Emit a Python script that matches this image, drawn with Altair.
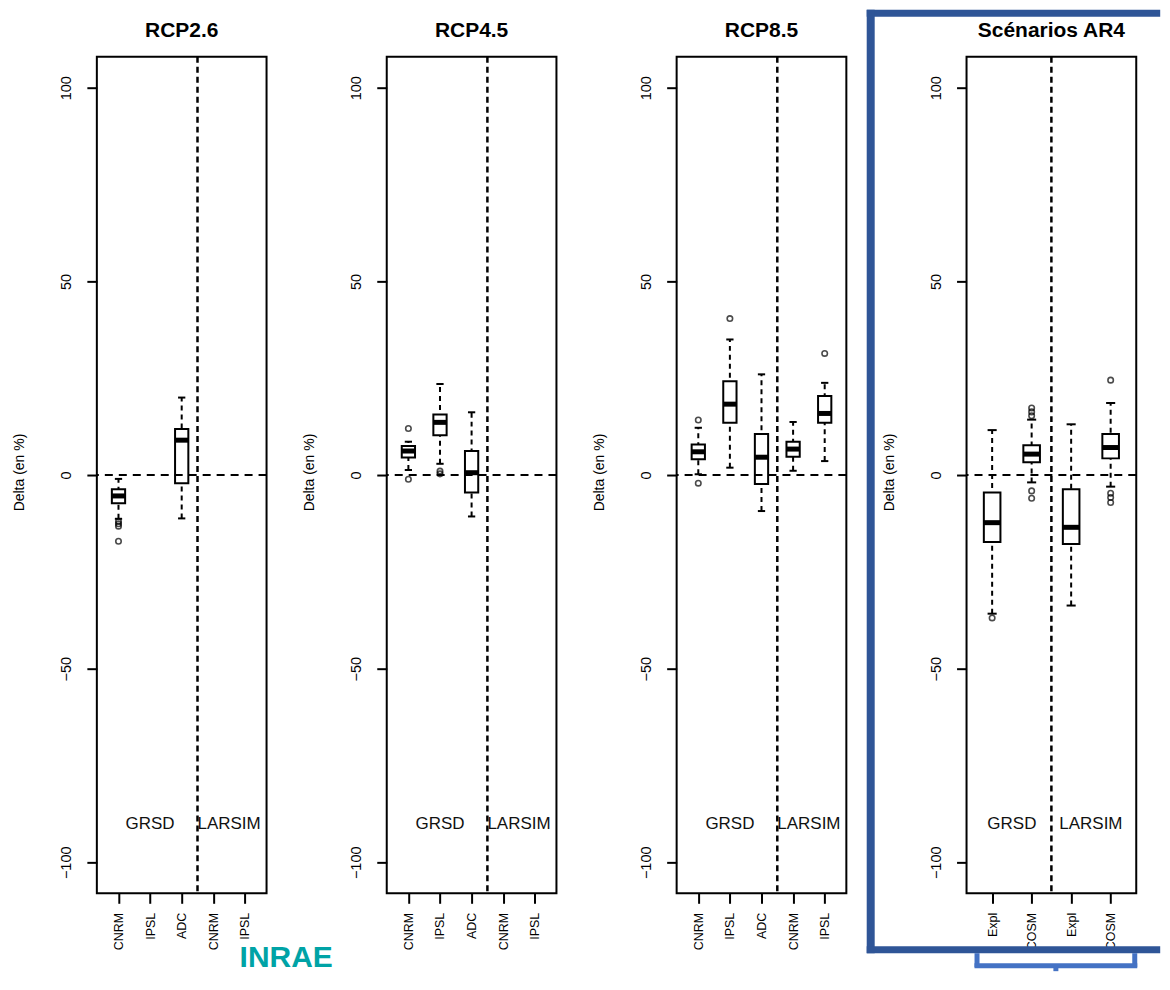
import altair as alt
import pandas as pd

# ---------------- data ----------------
panels = ["RCP2.6", "RCP4.5", "RCP8.5", "Scénarios AR4"]
tick_labels = [
    ["CNRM", "IPSL", "ADC", "CNRM", "IPSL"],
    ["CNRM", "IPSL", "ADC", "CNRM", "IPSL"],
    ["CNRM", "IPSL", "ADC", "CNRM", "IPSL"],
    ["Expl", "COSM", "Expl", "COSM"],
]
divider_pos = [3.5, 3.5, 3.5, 2.5]

box_panel = ["RCP2.6", "RCP2.6",
             "RCP4.5", "RCP4.5", "RCP4.5",
             "RCP8.5", "RCP8.5", "RCP8.5", "RCP8.5", "RCP8.5",
             "Scénarios AR4", "Scénarios AR4", "Scénarios AR4", "Scénarios AR4"]
box_pos  = [1, 3, 1, 2, 3, 1, 2, 3, 4, 5, 1, 2, 3, 4]
whisk_lo = [-11.3, -11.2, 1.3, 2.9, -10.7, 0.2, 1.9, -9.3, 1.1, 3.6, -35.8, -1.9, -33.7, -3.0]
box_q1   = [-7.3, -2.1, 4.5, 10.3, -4.5, 4.1, 13.5, -2.3, 4.7, 13.5, -17.3, 3.3, -17.8, 4.3]
box_med  = [-5.4, 9.0, 6.2, 13.6, 0.6, 6.0, 18.3, 4.6, 6.7, 15.9, -12.3, 5.4, -13.5, 7.1]
box_q3   = [-3.7, 11.9, 7.5, 15.6, 6.2, 7.9, 24.2, 10.6, 8.6, 20.4, -4.5, 7.7, -3.7, 10.6]
whisk_hi = [-1.0, 20.0, 8.6, 23.5, 16.2, 12.2, 35.0, 26.0, 13.7, 23.8, 11.6, 14.3, 13.1, 18.6]

out_panel = ["RCP2.6"] * 4 + ["RCP4.5"] * 4 + ["RCP8.5"] * 4 + ["Scénarios AR4"] * 10
out_pos = [1, 1, 1, 1,
           1, 1, 2, 2,
           1, 1, 2, 5,
           1, 2, 2, 2, 2, 2, 4, 4, 4, 4]
out_val = [-12.0, -12.6, -13.2, -17.1,
           12.0, -1.1, 1.0, 0.3,
           14.2, -2.1, 40.4, 31.4,
           -36.9, 17.3, 16.3, 15.3, -4.1, -6.0, 24.5, -4.7, -5.8, -7.1]

grp_panel = ["RCP2.6", "RCP2.6", "RCP4.5", "RCP4.5", "RCP8.5", "RCP8.5",
             "Scénarios AR4", "Scénarios AR4"]
grp_label = ["GRSD", "LARSIM"] * 4
grp_pos = [2, 4.5, 2, 4.5, 2, 4.5, 1.5, 3.5]
grp_val = [-90] * 8

# ---------------- tables ----------------
box_df = pd.DataFrame({"panel": box_panel, "pos": box_pos, "lo": whisk_lo,
                       "q1": box_q1, "med": box_med, "q3": box_q3, "hi": whisk_hi})
out_df = pd.DataFrame({"panel": out_panel, "pos": out_pos, "val": out_val})
grp_df = pd.DataFrame({"panel": grp_panel, "label": grp_label, "pos": grp_pos, "val": grp_val})
one = pd.DataFrame({"k": [0]})

FONT = "Liberation Sans"
W, H = 170, 838
BOXH = 0.21
CAPH = 0.115

yscale = alt.Scale(domain=[-108, 108], nice=False, zero=False)
yaxis = alt.Axis(values=[-100, -50, 0, 50, 100], title="Delta (en %)",
                 titleFontSize=14, titleFontWeight="normal", titleX=-77, titleY=416,
                 titleAngle=270, titleBaseline="middle", titleAlign="center",
                 labelAngle=270, labelAlign="center", labelBaseline="bottom",
                 labelPadding=13, labelFontSize=14.5, tickSize=10, tickWidth=2,
                 domain=False, grid=False, labelColor="black", titleColor="black",
                 tickColor="black", labelFont=FONT, titleFont=FONT)


def deco_rect(color, x, x2, y, y2):
    return alt.Chart(one).mark_rect(color=color).encode(
        x=alt.value(x), x2=alt.value(x2), y=alt.value(y), y2=alt.value(y2))


def panel_chart(i):
    name = panels[i]
    labs = tick_labels[i]
    n = len(labs)
    half = 1.074 * n / 2
    center = (n + 1) / 2
    xscale = alt.Scale(domain=[center - half, center + half], nice=False, zero=False)
    arr = "[" + ",".join("'" + l + "'" for l in labs) + "]"
    xaxis = alt.Axis(values=list(range(1, n + 1)), labelExpr=arr + "[datum.value - 1]",
                     title=None, labelAngle=270, labelPadding=9, labelFontSize=12.5,
                     tickSize=10, tickWidth=2, domain=False, grid=False,
                     labelColor="black", tickColor="black", labelOverlap=False,
                     labelFont=FONT)

    b = box_df[box_df.panel == name]
    o = out_df[out_df.panel == name]
    g = grp_df[grp_df.panel == name]

    base_b = alt.Chart(b).transform_calculate(
        bl=f"datum.pos - {BOXH}", br=f"datum.pos + {BOXH}",
        cl=f"datum.pos - {CAPH}", cr=f"datum.pos + {CAPH}")

    whisk = base_b.mark_rule(color="black", strokeWidth=2, strokeDash=[5, 4]).encode(
        x=alt.X("pos:Q", scale=xscale, axis=xaxis),
        y=alt.Y("lo:Q", scale=yscale, axis=yaxis),
        y2="hi:Q")
    cap_lo = base_b.mark_rule(color="black", strokeWidth=2).encode(
        x=alt.X("cl:Q", scale=xscale, axis=xaxis), x2="cr:Q",
        y=alt.Y("lo:Q", scale=yscale, axis=yaxis))
    cap_hi = base_b.mark_rule(color="black", strokeWidth=2).encode(
        x=alt.X("cl:Q", scale=xscale, axis=xaxis), x2="cr:Q",
        y=alt.Y("hi:Q", scale=yscale, axis=yaxis))
    box = base_b.mark_rect(fill="white", stroke="black", strokeWidth=2).encode(
        x=alt.X("bl:Q", scale=xscale, axis=xaxis), x2="br:Q",
        y=alt.Y("q1:Q", scale=yscale, axis=yaxis), y2="q3:Q")
    med = base_b.mark_rule(color="black", strokeWidth=5).encode(
        x=alt.X("bl:Q", scale=xscale, axis=xaxis), x2="br:Q",
        y=alt.Y("med:Q", scale=yscale, axis=yaxis))
    pts = alt.Chart(o).mark_point(shape="circle", filled=False, color="black",
                                  size=30, strokeWidth=1.6).encode(
        x=alt.X("pos:Q", scale=xscale, axis=xaxis),
        y=alt.Y("val:Q", scale=yscale, axis=yaxis))
    zero = alt.Chart(one).mark_rule(color="black", strokeWidth=2, strokeDash=[8, 6]).encode(
        y=alt.Y(datum=0, scale=yscale, axis=yaxis))
    div = alt.Chart(one).mark_rule(color="black", strokeWidth=2.5, strokeDash=[6, 4]).encode(
        x=alt.X(datum=divider_pos[i], scale=xscale, axis=xaxis))
    txt = alt.Chart(g).mark_text(fontSize=17, font=FONT, color="#111111",
                                 align="center", baseline="middle").encode(
        x=alt.X("pos:Q", scale=xscale, axis=xaxis),
        y=alt.Y("val:Q", scale=yscale, axis=yaxis),
        text="label:N")
    title = alt.Chart(one).mark_text(text=name, fontSize=21, fontWeight="bold",
                                     font=FONT, color="black", align="center",
                                     baseline="alphabetic").encode(
        x=alt.value(W / 2), y=alt.value(-20))

    layers = [whisk, cap_lo, cap_hi, box, med, pts, zero, div, txt, title]

    if i == 0:
        logo = alt.Chart(one).mark_text(text="INRAE", fontSize=30, fontWeight="bold",
                                        font=FONT, color="#00A3A6", align="left",
                                        baseline="alphabetic").encode(
            x=alt.value(143), y=alt.value(912))
        layers.append(logo)

    if i == 3:
        frame_c = "#2F5597"
        br_c = "#4472C4"
        layers += [
            deco_rect(frame_c, -100, 194, -47, -40),     # top of frame
            deco_rect(frame_c, -100, -92, -47, 898),     # left of frame
            deco_rect(frame_c, -100, 194, 891, 898),     # bottom of frame
            deco_rect(br_c, 8, 13, 898, 912),            # bracket left
            deco_rect(br_c, 166, 171, 898, 912),         # bracket right
            deco_rect(br_c, 8, 171, 908, 913),           # bracket bar
            deco_rect(br_c, 87, 92, 912, 916),           # bracket stem
        ]

    return alt.layer(*layers).properties(width=W, height=H)


charts = [panel_chart(i) for i in range(4)]

chart = alt.hconcat(*charts, spacing=120.4, bounds="flush").properties(
    padding={"left": 4, "top": 0, "right": 0, "bottom": 0}
).configure(
    font=FONT
).configure_view(
    stroke="black", strokeWidth=2
)

chart.save("out.html", embed_options={"renderer": "svg", "actions": False})
